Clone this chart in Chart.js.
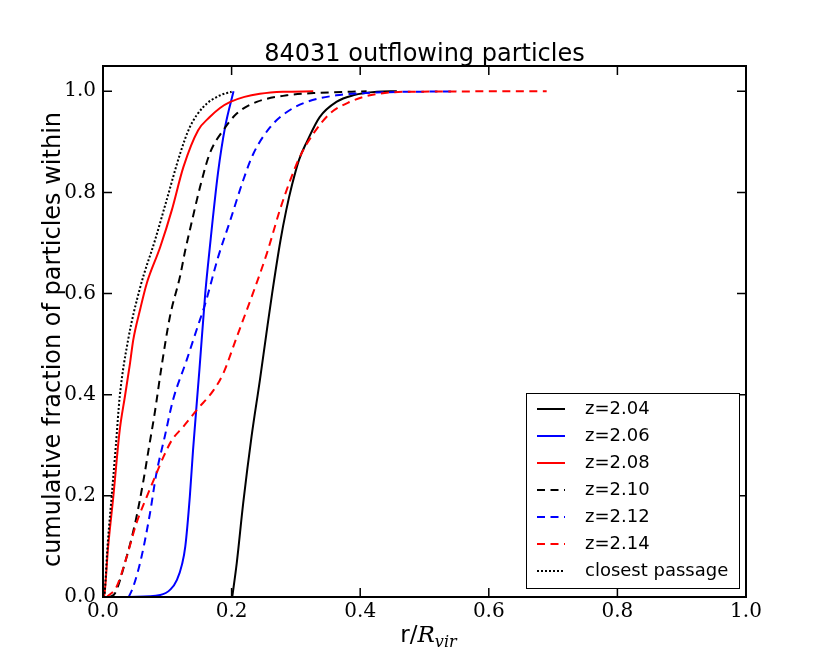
<!DOCTYPE html>
<html>
<head>
<meta charset="utf-8">
<script src="https://cdn.jsdelivr.net/npm/chart.js@4.4.1/dist/chart.umd.min.js"></script>
<style>
  html, body { margin: 0; padding: 0; background: #fff; }
</style>
</head>
<body>
<canvas id="cdf" width="830" height="664"></canvas>
<script>
// ---------------- data ----------------
const xTicks = [0, 0.2, 0.4, 0.6, 0.8, 1.0];
const yTicks = [0, 0.2, 0.4, 0.6, 0.8, 1.0];

const titleText = '84031 outflowing particles';
const yLabel = 'cumulative fraction of particles within';

const seriesNames = ['z=2.04', 'z=2.06', 'z=2.08', 'z=2.10', 'z=2.12', 'z=2.14', 'closest passage'];

// z=2.04
const r204 = [0.201, 0.208, 0.218, 0.231, 0.244, 0.254, 0.263, 0.276, 0.285, 0.294, 0.305, 0.317, 0.337, 0.363, 0.389, 0.426, 0.457];
const f204 = [0, 0.067, 0.185, 0.317, 0.429, 0.52, 0.6, 0.705, 0.765, 0.815, 0.865, 0.9, 0.949, 0.979, 0.992, 0.999, 1.0];

// z=2.06
const r206 = [0.040, 0.089, 0.105, 0.115, 0.123, 0.128, 0.135, 0.140, 0.150, 0.159, 0.166, 0.179, 0.190, 0.203];
const f206 = [0, 0.004, 0.015, 0.034, 0.065, 0.1, 0.198, 0.29, 0.45, 0.6, 0.69, 0.84, 0.93, 1.0];

// z=2.08
const r208 = [0, 0.002, 0.008, 0.016, 0.026, 0.034, 0.042, 0.047, 0.058, 0.068, 0.089, 0.107, 0.125, 0.148, 0.166, 0.182, 0.198, 0.22, 0.244, 0.28, 0.327];
const f208 = [0, 0.004, 0.1, 0.198, 0.33, 0.396, 0.462, 0.508, 0.57, 0.62, 0.692, 0.765, 0.85, 0.923, 0.949, 0.967, 0.979, 0.989, 0.995, 0.999, 1.0];

// z=2.10
const r210 = [0.010, 0.019, 0.034, 0.050, 0.063, 0.072, 0.080, 0.091, 0.104, 0.120, 0.128, 0.135, 0.151, 0.166, 0.187, 0.208, 0.239, 0.286, 0.337, 0.41];
const f210 = [0, 0.008, 0.067, 0.146, 0.231, 0.3, 0.36, 0.455, 0.554, 0.635, 0.686, 0.725, 0.811, 0.877, 0.923, 0.956, 0.979, 0.992, 0.997, 1.0];

// z=2.12
const r212 = [0.040, 0.047, 0.060, 0.073, 0.083, 0.096, 0.109, 0.130, 0.146, 0.159, 0.179, 0.198, 0.218, 0.234, 0.26, 0.286, 0.317, 0.363, 0.415, 0.55];
const f212 = [0, 0.02, 0.08, 0.165, 0.244, 0.317, 0.39, 0.468, 0.53, 0.58, 0.672, 0.745, 0.824, 0.877, 0.929, 0.959, 0.979, 0.992, 0.997, 1.0];

// z=2.14
const r214 = [0.006, 0.021, 0.037, 0.052, 0.068, 0.081, 0.094, 0.107, 0.125, 0.146, 0.172, 0.187, 0.208, 0.233, 0.255, 0.275, 0.29, 0.306, 0.327, 0.353, 0.384, 0.415, 0.472, 0.69];
const f214 = [0, 0.02, 0.08, 0.146, 0.198, 0.238, 0.277, 0.31, 0.337, 0.37, 0.409, 0.442, 0.514, 0.6, 0.68, 0.765, 0.82, 0.87, 0.916, 0.956, 0.979, 0.992, 0.999, 1.0];

// closest passage
const rClose = [0, 0.002, 0.007, 0.0135, 0.02, 0.026, 0.039, 0.058, 0.081, 0.099, 0.12, 0.135, 0.156, 0.182, 0.2];
const fClose = [0, 0.004, 0.1, 0.2, 0.3, 0.396, 0.508, 0.613, 0.706, 0.785, 0.877, 0.929, 0.969, 0.992, 0.999];

// ---------------- helpers ----------------
function pts(rs, fs) {
    return rs.map((r, i) => ({ x: r, y: fs[i] }));
}

const DASH = [8, 5.5];
const DOT = [2, 2];

function series(i, rs, fs, color, dash) {
    return {
        label: seriesNames[i],
        data: pts(rs, fs),
        borderColor: color,
        backgroundColor: color,
        borderWidth: 2,
        borderDash: dash,
        pointRadius: 0,
        fill: false,
        cubicInterpolationMode: 'monotone',
        order: 10 - i,
    };
}

// ---------------- frame, ticks, legend, titles ----------------
const decor = {
    id: 'decor',
    afterDatasetsDraw(chart) {
        const { ctx, chartArea: a, scales: { x, y } } = chart;
        ctx.save();
        ctx.strokeStyle = '#000';
        ctx.fillStyle = '#000';

        // inward ticks on all four sides
        ctx.lineWidth = 1.5;
        ctx.setLineDash([]);
        ctx.beginPath();
        xTicks.forEach(v => {
            const px = x.getPixelForValue(v);
            ctx.moveTo(px, a.bottom); ctx.lineTo(px, a.bottom - 9);
            ctx.moveTo(px, a.top); ctx.lineTo(px, a.top + 9);
        });
        yTicks.forEach(v => {
            const py = y.getPixelForValue(v);
            ctx.moveTo(a.left, py); ctx.lineTo(a.left + 9, py);
            ctx.moveTo(a.right, py); ctx.lineTo(a.right - 9, py);
        });
        ctx.stroke();

        ctx.lineWidth = 2;
        ctx.strokeRect(a.left, a.top, a.right - a.left, a.bottom - a.top);

        // legend box, lower right
        const lx = 526, ly = 393, lw = 213, lh = 195;
        ctx.fillStyle = '#fff';
        ctx.fillRect(lx, ly, lw, lh);
        ctx.lineWidth = 1;
        ctx.strokeStyle = '#000';
        ctx.strokeRect(lx + 0.5, ly + 0.5, lw, lh);
        ctx.font = '18px "DejaVu Sans"';
        ctx.textBaseline = 'middle';
        ctx.textAlign = 'left';
        chart.data.datasets.forEach((ds, i) => {
            const cy = ly + 16 + i * 27;
            ctx.strokeStyle = ds.borderColor;
            ctx.lineWidth = 2;
            ctx.setLineDash(ds.borderDash || []);
            ctx.beginPath();
            ctx.moveTo(lx + 11, cy);
            ctx.lineTo(lx + 39, cy);
            ctx.stroke();
            ctx.setLineDash([]);
            ctx.fillStyle = '#000';
            ctx.fillText(ds.label, lx + 59, cy);
        });

        // title
        const cx = (a.left + a.right) / 2;
        ctx.fillStyle = '#000';
        ctx.textAlign = 'center';
        ctx.textBaseline = 'alphabetic';
        ctx.font = '24px "DejaVu Sans"';
        ctx.fillText(titleText, cx, 61);

        // y label
        ctx.save();
        ctx.translate(60, (a.top + a.bottom) / 2 + 8);
        ctx.rotate(-Math.PI / 2);
        ctx.fillText(yLabel, 0, 0);
        ctx.restore();

        // x label: r/R_vir
        ctx.textAlign = 'left';
        const f1 = '23px "DejaVu Sans"';
        const f2 = 'italic 23px "DejaVu Serif"';
        const f3 = 'italic 16px "DejaVu Serif"';
        ctx.font = f1; const w1 = ctx.measureText('r/').width;
        ctx.font = f2; const w2 = ctx.measureText('R').width;
        ctx.font = f3; const w3 = ctx.measureText('vir').width;
        let sx = cx + 4 - (w1 + w2 + w3) / 2;
        const base = 642;
        ctx.font = f1; ctx.fillText('r/', sx, base); sx += w1;
        ctx.font = f2; ctx.fillText('R', sx, base); sx += w2;
        ctx.font = f3; ctx.fillText('vir', sx, base + 5);

        ctx.restore();
    }
};

// ---------------- chart ----------------
const data = {
    datasets: [
        series(0, r204, f204, '#000000', []),
        series(1, r206, f206, '#0000ff', []),
        series(2, r208, f208, '#ff0000', []),
        series(3, r210, f210, '#000000', DASH),
        series(4, r212, f212, '#0000ff', DASH),
        series(5, r214, f214, '#ff0000', DASH),
        series(6, rClose, fClose, '#000000', DOT),
    ]
};

const tickFont = { family: '"DejaVu Serif"', size: 20 };

const config = {
    type: 'line',
    data: data,
    options: {
        responsive: false,
        animation: false,
        devicePixelRatio: 1,
        layout: { padding: { left: 0, right: 84, top: 66, bottom: 0 } },
        plugins: {
            legend: { display: false },
            tooltip: { enabled: false },
        },
        scales: {
            x: {
                type: 'linear',
                min: 0,
                max: 1,
                grid: { display: false, drawTicks: false },
                border: { display: false },
                ticks: {
                    color: '#000',
                    font: tickFont,
                    padding: 3,
                    maxRotation: 0,
                    callback: v => v.toFixed(1),
                },
                afterBuildTicks: s => { s.ticks = xTicks.map(v => ({ value: v })); },
                afterFit: s => { s.height = 67; },
            },
            y: {
                type: 'linear',
                min: 0,
                max: 1.05,
                grid: { display: false, drawTicks: false },
                border: { display: false },
                ticks: {
                    color: '#000',
                    font: tickFont,
                    padding: 7,
                    callback: v => v.toFixed(1),
                },
                afterBuildTicks: s => { s.ticks = yTicks.map(v => ({ value: v })); },
                afterFit: s => { s.width = 103; },
            },
        },
    },
    plugins: [decor],
};

const cdf = new Chart(document.getElementById('cdf'), config);
</script>
</body>
</html>
